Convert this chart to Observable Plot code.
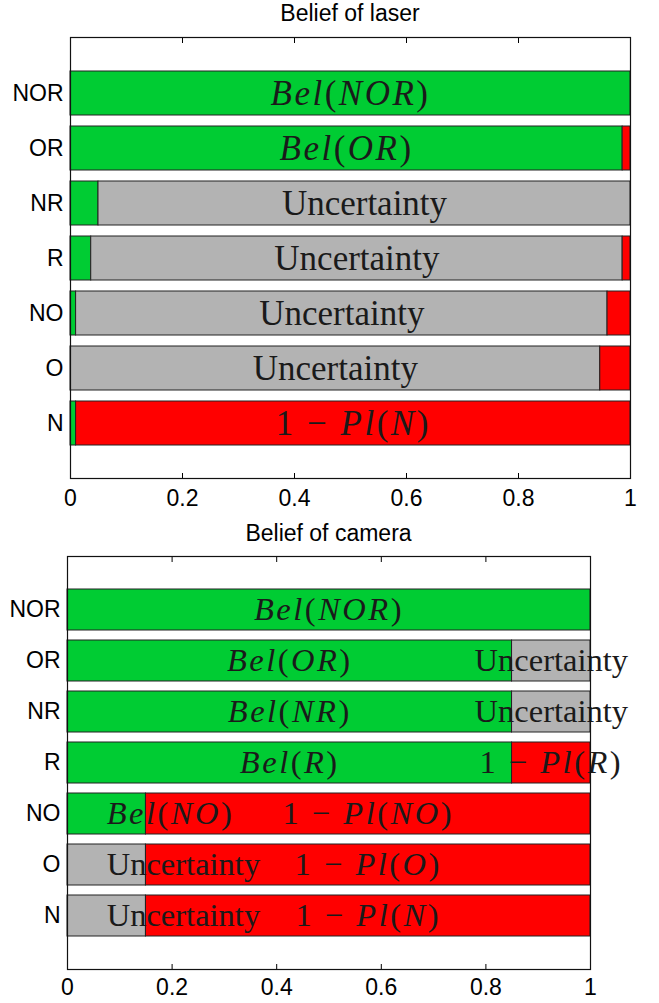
<!DOCTYPE html>
<html>
<head>
<meta charset="utf-8">
<script src="https://cdn.jsdelivr.net/npm/d3@7"></script>
<script src="https://cdn.jsdelivr.net/npm/@observablehq/plot@0.6"></script>
<style>
  body { margin: 0; background: #fff; }
  #page { position: relative; width: 659px; height: 1003px; font-family: "Liberation Sans", Arial, sans-serif; }
  .panel { position: absolute; left: 0; }
  .title { position: absolute; z-index: 2; text-align: center; font-size: 23px; line-height: 24px; color: #000; }
</style>
</head>
<body>
<div id="page"></div>
<script>
// Hypotheses, listed top to bottom
const categories = ["NOR", "OR", "NR", "R", "NO", "O", "N"];
const kinds = ["Bel", "Uncertainty", "1-Pl"];
const kindColors = ["#00cc33", "#b3b3b3", "#ff0000"];

// Laser sensor: belief, uncertainty, 1 - plausibility per hypothesis
const laserBel = [1.0, 0.986, 0.05, 0.037, 0.01, 0.0, 0.01];
const laserUnc = [0.0, 0.0, 0.95, 0.949, 0.949, 0.946, 0.0];
const laserDis = [0.0, 0.014, 0.0, 0.014, 0.041, 0.054, 0.99];

// Camera sensor: belief, uncertainty, 1 - plausibility per hypothesis
const cameraBel = [1.0, 0.85, 0.85, 0.85, 0.15, 0.0, 0.0];
const cameraUnc = [0.0, 0.15, 0.15, 0.0, 0.0, 0.15, 0.15];
const cameraDis = [0.0, 0.0, 0.0, 0.15, 0.85, 0.85, 0.85];

const xTicks = [0, 0.2, 0.4, 0.6, 0.8, 1];

// In-bar annotations: hypothesis, segment, text, anchor
const laserLabels = [
  ["NOR", "Bel", "Bel(NOR)", "middle"],
  ["OR", "Bel", "Bel(OR)", "middle"],
  ["NR", "Uncertainty", "Uncertainty", "middle"],
  ["R", "Uncertainty", "Uncertainty", "middle"],
  ["NO", "Uncertainty", "Uncertainty", "middle"],
  ["O", "Uncertainty", "Uncertainty", "middle"],
  ["N", "1-Pl", "1 − Pl(N)", "middle"]
];
const cameraLabels = [
  ["NOR", "Bel", "Bel(NOR)", "middle"],
  ["OR", "Bel", "Bel(OR)", "middle"],
  ["OR", "Uncertainty", "Uncertainty", "middle"],
  ["NR", "Bel", "Bel(NR)", "middle"],
  ["NR", "Uncertainty", "Uncertainty", "middle"],
  ["R", "Bel", "Bel(R)", "middle"],
  ["R", "1-Pl", "1 − Pl(R)", "middle"],
  ["NO", "Bel", "Bel(NO)", "start"],
  ["NO", "1-Pl", "1 − Pl(NO)", "middle"],
  ["O", "Uncertainty", "Uncertainty", "start"],
  ["O", "1-Pl", "1 − Pl(O)", "middle"],
  ["N", "Uncertainty", "Uncertainty", "start"],
  ["N", "1-Pl", "1 − Pl(N)", "middle"]
];

// Stack the three masses of each hypothesis into contiguous segments
function segments(bel, unc, dis) {
  const out = [];
  categories.forEach((cat, i) => {
    let x0 = 0;
    [bel[i], unc[i], dis[i]].forEach((v, k) => {
      if (v > 0) out.push({cat, kind: kinds[k], x1: x0, x2: x0 + v});
      x0 += v;
    });
  });
  return out;
}

function labelRows(segs, labels) {
  return labels.map(([cat, kind, text, anchor]) => {
    const s = segs.find(d => d.cat === cat && d.kind === kind);
    return {cat, text, anchor, x: (s.x1 + s.x2) / 2};
  });
}

// Math-style labels: letters in italic, digits, operators and brackets upright
function styleMath(svg) {
  d3.select(svg).selectAll('g[aria-label="text"] text').each(function () {
    const s = this.textContent;
    if (s === "Uncertainty") return;
    const sel = d3.select(this);
    sel.text(null).attr("letter-spacing", "2.5px");
    const runs = s.match(/[A-Za-z]+|[^A-Za-z]+/g);
    for (const r of runs) {
      sel.append("tspan")
        .attr("font-style", /[A-Za-z]/.test(r) ? "italic" : "normal")
        .text(r);
    }
  });
}

function panel({bel, unc, dis, labels, height, marginTop, marginBottom, marginLeft, marginRight, labelSize, tickPad}) {
  const segs = segments(bel, unc, dis);
  const rows = labelRows(segs, labels);
  const textOpts = {
    y: "cat", x: "x", text: "text",
    fontFamily: "Liberation Serif, Times New Roman, serif",
    fontSize: labelSize, fill: "#1a1a1a"
  };
  const svg = Plot.plot({
    width: 659, height, marginTop, marginBottom, marginLeft, marginRight,
    style: {fontFamily: "Liberation Sans, Arial, sans-serif", fontSize: "23px", color: "#000", background: "transparent", overflow: "visible"},
    x: {domain: [0, 1], axis: null},
    y: {domain: categories, paddingInner: 0.2, paddingOuter: 0.6, axis: null},
    color: {domain: kinds, range: kindColors},
    marks: [
      Plot.barX(segs, {y: "cat", x1: "x1", x2: "x2", fill: "kind", stroke: "#222", strokeWidth: 1}),
      Plot.text(rows.filter(d => d.anchor === "middle"), {...textOpts, textAnchor: "middle"}),
      Plot.text(rows.filter(d => d.anchor === "start"), {...textOpts, textAnchor: "start"}),
      Plot.axisY({tickSize: 0, tickPadding: 7, label: null, fontSize: 23}),
      Plot.axisX({anchor: "bottom", ticks: xTicks, tickSize: 5, dy: -5, fill: "none", label: null}),
      Plot.axisX({anchor: "top", ticks: xTicks, tickSize: 5, dy: 5, fill: "none", label: null}),
      Plot.axisX({anchor: "bottom", ticks: xTicks, tickSize: 0, tickPadding: tickPad, label: null, fontSize: 23,
        tickFormat: d => String(+d.toFixed(1))}),
      Plot.frame({stroke: "#111", strokeWidth: 1.2})
    ]
  });
  styleMath(svg);
  return svg;
}

const page = document.getElementById("page");

function addPanel(top, svg, title, titleTop, left, width) {
  const wrap = document.createElement("div");
  wrap.className = "panel";
  wrap.style.top = top + "px";
  wrap.appendChild(svg);
  page.appendChild(wrap);
  const t = document.createElement("div");
  t.className = "title";
  t.style.top = titleTop + "px";
  t.style.left = left + "px";
  t.style.width = width + "px";
  t.textContent = title;
  page.appendChild(t);
}

addPanel(0, panel({
  bel: laserBel, unc: laserUnc, dis: laserDis, labels: laserLabels,
  height: 520, marginTop: 37, marginBottom: 42, marginLeft: 70, marginRight: 29,
  labelSize: 35, tickPad: 11
}), "Belief of laser", 1, 70, 560);

addPanel(520, panel({
  bel: cameraBel, unc: cameraUnc, dis: cameraDis, labels: cameraLabels,
  height: 483, marginTop: 36, marginBottom: 34, marginLeft: 67, marginRight: 69,
  labelSize: 32.5, tickPad: 9
}), "Belief of camera", 521, 67, 523);
</script>
</body>
</html>
